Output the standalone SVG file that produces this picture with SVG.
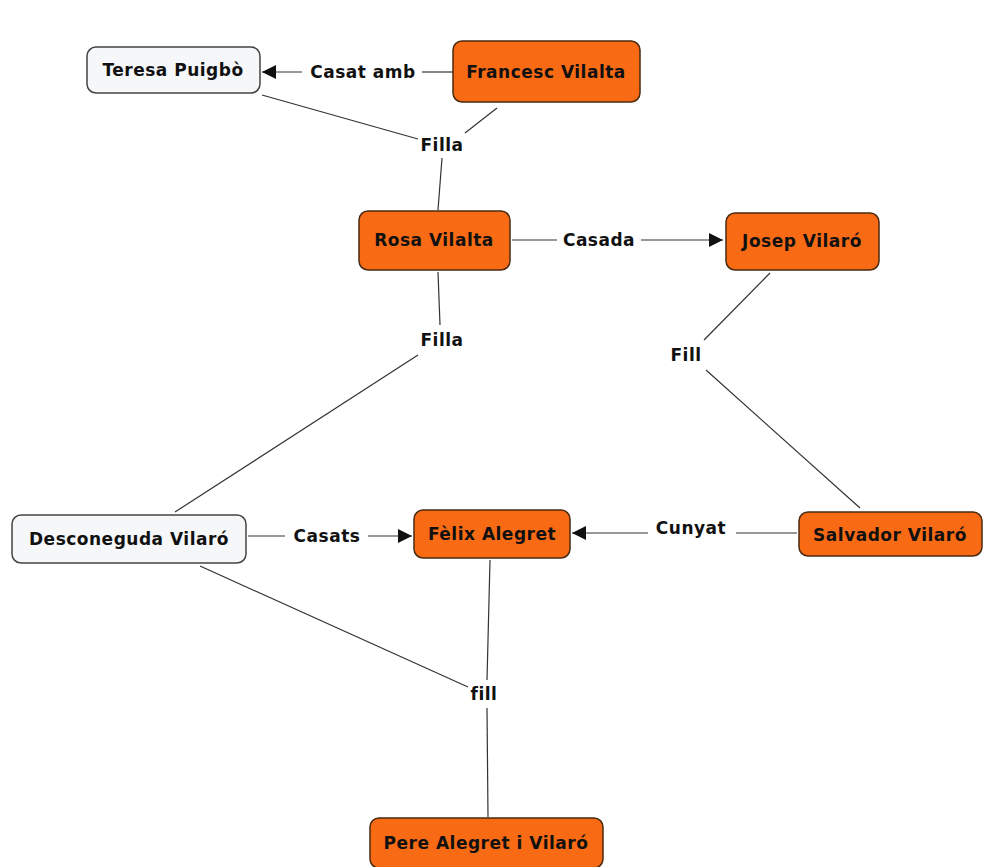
<svg xmlns="http://www.w3.org/2000/svg" width="984" height="867" viewBox="0 0 984 867">
<defs>
<marker id="ah" viewBox="0 0 10 10" refX="10" refY="5" markerWidth="14" markerHeight="14" markerUnits="userSpaceOnUse" orient="auto">
<path d="M0,0 L10,5 L0,10 z" fill="#111"/>
</marker>
<style>
.o{fill:#f96a14;stroke:#4a2a10;stroke-width:1.5}
.w{fill:#f5f7f9;stroke:#444;stroke-width:1.5}
.t{font-family:"DejaVu Sans",Verdana,sans-serif;font-weight:bold;font-size:17px;letter-spacing:0.5px;fill:#111;text-anchor:middle;dominant-baseline:central}
.l{font-family:"DejaVu Sans",Verdana,sans-serif;font-weight:bold;font-size:17px;letter-spacing:0.5px;fill:#111;text-anchor:middle;dominant-baseline:central}
.c{stroke:#333;stroke-width:1.2;fill:none}
.a{stroke:#333;stroke-width:1.2;fill:none;marker-end:url(#ah)}
</style>
</defs>
<rect width="984" height="867" fill="#fff"/>
<g id="connectors">
<line class="c" x1="453" y1="72" x2="422" y2="72"/>
<line class="a" x1="302" y1="72" x2="262" y2="72"/>
<line class="c" x1="262" y1="95" x2="418" y2="139"/>
<line class="c" x1="497" y1="108" x2="465" y2="133"/>
<line class="c" x1="442" y1="158" x2="438" y2="210"/>
<line class="c" x1="512" y1="240" x2="557" y2="240"/>
<line class="a" x1="641" y1="240" x2="723" y2="240"/>
<line class="c" x1="438" y1="272" x2="440" y2="325"/>
<line class="c" x1="418" y1="355" x2="175" y2="512"/>
<line class="c" x1="770" y1="273" x2="704" y2="340"/>
<line class="c" x1="706" y1="370" x2="860" y2="508"/>
<line class="c" x1="248" y1="536" x2="285" y2="536"/>
<line class="a" x1="368" y1="536" x2="412" y2="536"/>
<line class="c" x1="797" y1="533" x2="736" y2="533"/>
<line class="a" x1="648" y1="533" x2="572" y2="533"/>
<line class="c" x1="200" y1="566" x2="468" y2="687"/>
<line class="c" x1="490" y1="560" x2="487" y2="680"/>
<line class="c" x1="487" y1="708" x2="488" y2="817"/>
<text class="l" x="363" y="72">Casat amb</text>
<text class="l" x="442" y="145">Filla</text>
<text class="l" x="599" y="240">Casada</text>
<text class="l" x="442" y="340">Filla</text>
<text class="l" x="686" y="355">Fill</text>
<text class="l" x="327" y="536">Casats</text>
<text class="l" x="691" y="528">Cunyat</text>
<text class="l" x="484" y="694">fill</text>
</g>
<g id="teresa"><rect class="w" x="87" y="47" width="173" height="46" rx="9"/><text class="t" x="173" y="70">Teresa Puigbò</text></g>
<g id="francesc"><rect class="o" x="453" y="41" width="187" height="61" rx="9"/><text class="t" x="546" y="72">Francesc Vilalta</text></g>
<g id="rosa"><rect class="o" x="359" y="211" width="151" height="59" rx="9"/><text class="t" x="434" y="240">Rosa Vilalta</text></g>
<g id="josep"><rect class="o" x="726" y="213" width="153" height="57" rx="9"/><text class="t" x="802" y="241">Josep Vilaró</text></g>
<g id="desconeguda"><rect class="w" x="12" y="515" width="234" height="48" rx="9"/><text class="t" x="129" y="539">Desconeguda Vilaró</text></g>
<g id="felix"><rect class="o" x="414" y="510" width="156" height="48" rx="9"/><text class="t" x="492" y="534">Fèlix Alegret</text></g>
<g id="salvador"><rect class="o" x="799" y="512" width="183" height="44" rx="9"/><text class="t" x="890" y="535">Salvador Vilaró</text></g>
<g id="pere"><rect class="o" x="370" y="818" width="233" height="50" rx="9"/><text class="t" x="486" y="843">Pere Alegret i Vilaró</text></g>
</svg>
